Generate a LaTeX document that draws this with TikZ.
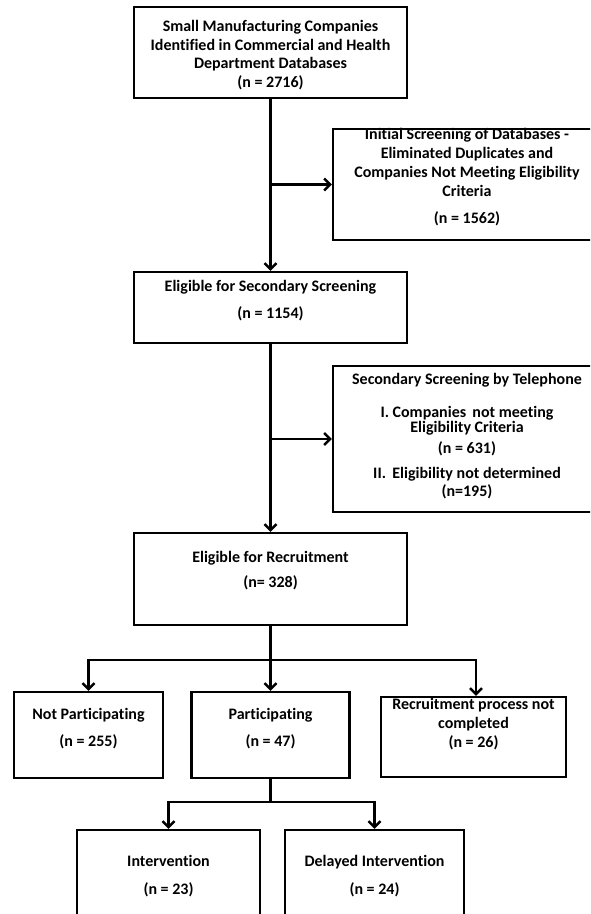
\documentclass[tikz,border=0pt]{standalone}
\usepackage{fontspec}
\setmainfont{Carlito}[Ligatures=NoCommon]
\usetikzlibrary{arrows.meta}

\tikzset{
  box/.style={draw, line width=2.4pt},
  txt/.style={align=center, inner sep=0pt, font=\fontsize{16}{18.8}\selectfont\bfseries},
  arr/.style={line width=2.4pt, -{Straight Barb[length=6pt,width=12pt]}},
  ln/.style={line width=2.4pt}
}

\begin{document}
\begin{tikzpicture}[x=1pt, y=1pt]
  \clip (0,0) rectangle (590,-914);
  % main column
  \node[box, minimum width=273pt, minimum height=91pt] (dbs) at (270.5,-52.5) {};
  \node[txt] (dbst) at (270.5,-55) {Small Manufacturing Companies\\Identified in Commercial and Health\\Department Databases\\(n = 2716)};
  \node[box, minimum width=273pt, minimum height=71pt] (elig) at (270.5,-307.5) {};
  \node[txt] (eligt) at (270.5,-300.5) {Eligible for Secondary Screening\\[8pt](n = 1154)};
  \node[box, minimum width=273pt, minimum height=92pt] (recr) at (270.5,-579) {};
  \node[txt] (recrt) at (270.5,-570.5) {Eligible for Recruitment\\[6pt](n= 328)};
  % side boxes
  \node[txt] (scrt) at (467,-177) {Initial Screening of Databases -\\Eliminated Duplicates and\\Companies Not Meeting Eligibility\\Criteria\\[8pt](n = 1562)};
  \node[box, minimum width=267pt, minimum height=111pt] (scr) at (466.5,-184.5) {};
  \node[box, minimum width=267pt, minimum height=146pt] (tel) at (466.5,-439) {};
  \node[txt] (telt) at (467,-436.5) {Secondary Screening by Telephone\\[14pt]I. Companies\, not meeting\\[-4pt]Eligibility Criteria\\[2pt](n = 631)\\[6pt]II.\, Eligibility not determined\\(n=195)};
  % recruitment outcome
  \node[box, minimum width=149pt, minimum height=86pt] (notp) at (88.5,-735) {};
  \node[txt] (notpt) at (88.5,-728.5) {Not Participating\\[8pt](n = 255)};
  \node[box, minimum width=158pt, minimum height=86pt] (part) at (270.5,-735) {};
  \node[txt] (partt) at (270.5,-728.5) {Participating\\[8pt](n = 47)};
  \node[box, minimum width=185pt, minimum height=80pt] (incomp) at (473.5,-737) {};
  \node[txt] (incompt) at (473.5,-724) {Recruitment process not\\completed\\(n = 26)};
  % study arms
  \node[box, minimum width=183pt, minimum height=110pt] (interv) at (168.5,-885) {};
  \node[txt] (intervt) at (168.5,-876) {Intervention\\[9pt](n = 23)};
  \node[box, minimum width=179pt, minimum height=110pt] (delay) at (374.5,-885) {};
  \node[txt] (delayt) at (374.5,-876) {Delayed Intervention\\[9pt](n = 24)};
  % connectors
  \coordinate (a1) at (dbs.south |- scr.west);
  \coordinate (a2) at (elig.south |- tel.west);
  \coordinate (s1) at (270.5,-660);
  \coordinate (s2) at (270.5,-802);
  \draw[arr] (dbs) -- (elig);
  \draw[arr] (a1) -- (scr.west);
  \draw[arr] (elig) -- (recr);
  \draw[arr] (a2) -- (tel.west);
  \draw[ln] (recr.south) -- (s1);
  \draw[arr] (s1) -| (notp.north);
  \draw[arr] (s1) -- (part.north);
  \draw[arr] (s1) -| ([xshift=2.5pt]incomp.north);
  \draw[ln] (part.south) -- (s2);
  \draw[arr] (s2) -| (interv.north);
  \draw[arr] (s2) -| (delay.north);
\end{tikzpicture}
\end{document}
